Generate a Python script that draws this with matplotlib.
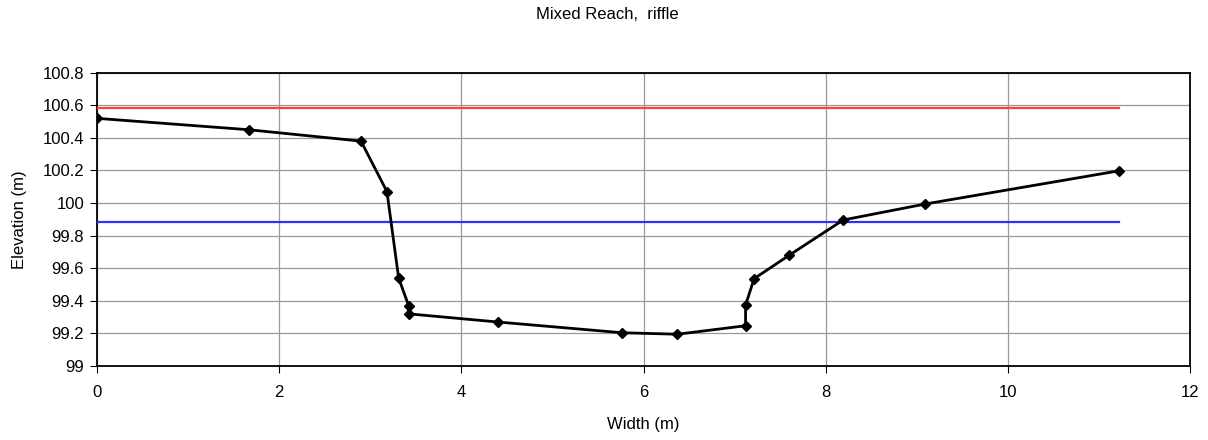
import matplotlib
matplotlib.use("Agg")
import matplotlib.pyplot as plt

plt.rcParams['font.family'] = ['Liberation Sans', 'DejaVu Sans']

# Cross-section survey: station across the channel (m) and bed elevation (m)
width_m = [0.0, 1.667, 2.90, 3.185, 3.313, 3.423, 3.423, 4.40, 5.766, 6.37,
           7.119, 7.119, 7.213, 7.596, 8.19, 9.089, 11.217]
elevation_m = [100.52, 100.45, 100.38, 100.07, 99.54, 99.37, 99.32, 99.27,
               99.204, 99.195, 99.247, 99.374, 99.536, 99.679, 99.896,
               99.994, 100.198]

# Reference water levels drawn across the section
bankfull_x = [0.0, 11.217]
bankfull_y = [100.585, 100.585]
water_x = [0.0, 11.217]
water_y = [99.885, 99.885]

x_ticks = [0, 2, 4, 6, 8, 10, 12]
y_ticks = [99, 99.2, 99.4, 99.6, 99.8, 100, 100.2, 100.4, 100.6, 100.8]
y_tick_labels = ['99', '99.2', '99.4', '99.6', '99.8', '100', '100.2',
                 '100.4', '100.6', '100.8']

fig = plt.figure(figsize=(12.08, 4.40), dpi=100)
ax = fig.add_axes([0.0800, 0.1682, 0.9055, 0.6666])

ax.plot(bankfull_x, bankfull_y, color='#ff4040', lw=1.6, zorder=3)
ax.plot(water_x, water_y, color='#3030ff', lw=1.6, zorder=3)
ax.plot(width_m, elevation_m, color='black', lw=2.0, marker='D',
        markersize=5.5, markerfacecolor='black', markeredgecolor='black',
        zorder=4)

ax.set_xlim(0, 12)
ax.set_ylim(99, 100.8)
ax.set_xticks(x_ticks)
ax.set_xticklabels([str(t) for t in x_ticks])
ax.set_yticks(y_ticks)
ax.set_yticklabels(y_tick_labels)

ax.grid(True, color='#999999', lw=0.9)
ax.set_axisbelow(True)

for side in ['left', 'bottom', 'top', 'right']:
    ax.spines[side].set_color('black')
    ax.spines[side].set_linewidth(1.3)

ax.tick_params(axis='both', direction='out', length=5, width=0.8,
               labelsize=12, colors='black')
ax.tick_params(axis='x', pad=9)
ax.tick_params(axis='y', pad=4)

ax.set_xlabel('Width (m)', fontsize=12)
ax.set_ylabel('Elevation (m)', fontsize=12)
ax.xaxis.set_label_coords(0.5, -0.174)
ax.yaxis.set_label_coords(-0.0637, 0.5)

fig.text(0.503, 0.968, 'Mixed Reach,  riffle', ha='center', va='center',
         fontsize=12)

fig.savefig('out.png', dpi=100)
